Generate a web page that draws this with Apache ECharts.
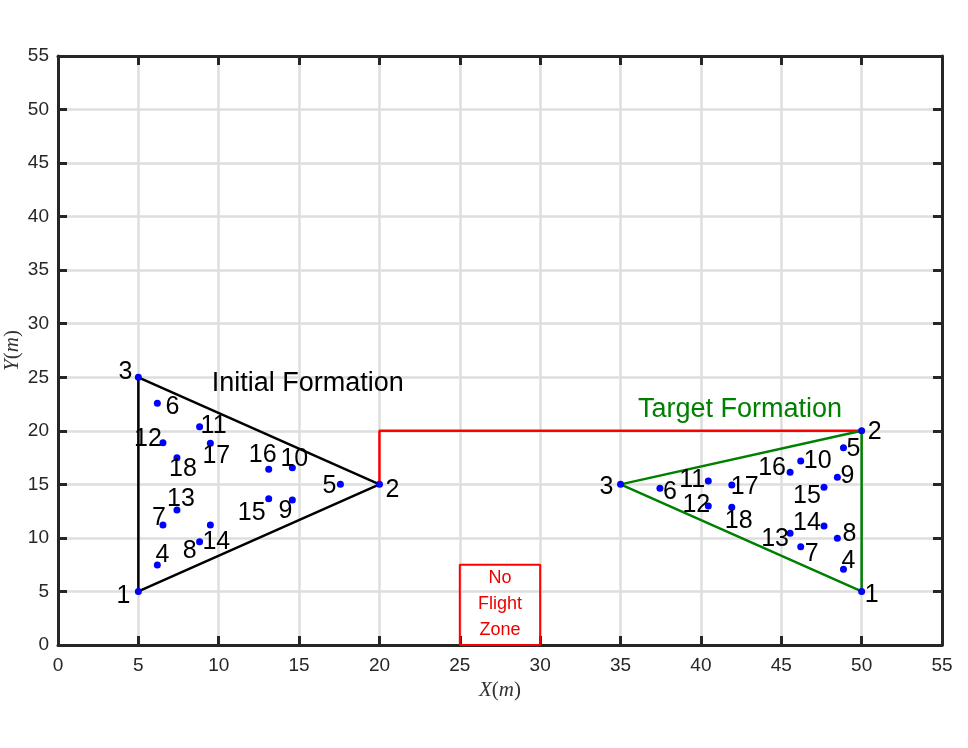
<!DOCTYPE html>
<html>
<head>
<meta charset="utf-8">
<script src="https://cdn.jsdelivr.net/npm/echarts@6/dist/echarts.min.js"></script>
<style>html,body{margin:0;padding:0;background:#fff}#c{width:968px;height:748px}</style>
</head>
<body>
<div id="c"></div>
<script>
// ---- data ----
const initialX = [5, 20, 5, 6.18, 17.57, 6.18, 6.53, 8.81, 14.58, 14.58, 8.81, 6.53, 7.40, 9.48, 13.11, 13.11, 9.48, 7.40];
const initialY = [5, 15, 25, 7.47, 15.0, 22.57, 11.2, 9.65, 13.54, 16.55, 20.38, 18.89, 12.6, 11.2, 13.66, 16.4, 18.83, 17.49];
const targetX = [50, 50, 35, 48.87, 48.87, 37.45, 46.21, 48.49, 48.49, 46.21, 40.46, 40.46, 45.55, 47.66, 47.66, 45.55, 41.92, 41.92];
const targetY = [5, 20, 15, 7.07, 18.42, 14.63, 9.18, 9.96, 15.66, 17.18, 15.31, 12.98, 10.43, 11.11, 14.72, 16.12, 14.94, 12.86];
const pathX = [20, 20, 50];
const pathY = [15, 20, 20];
const zoneX = [25, 25, 30, 30, 25];
const zoneY = [0, 7.5, 7.5, 0, 0];
const zoneLabelPos = [27.5, 3.83];
const zoneText = 'No\nFlight\nZone';
const initialTitle = 'Initial Formation';
const initialTitlePos = [9.56, 24.46];
const targetTitle = 'Target Formation';
const targetTitlePos = [36.08, 21.94];
const xTicks = [0, 55, 5];
const yTicks = [0, 55, 5];

// ---- label styling (pixel offsets of the number labels) ----
const initialLabelOffsets = [[-15,5],[13,6],[-13,-5],[5,-10],[-11,2],[15,4],[-4,-7],[-10,9],[-7,11],[2,-9],[14,-1],[-15,-4],[4,-11],[6,17],[-17,14],[-6,-14],[6,13],[6,11]];
const targetLabelOffsets = [[10,4],[13,1],[-14,3],[5,-8],[10,1],[10,4],[11,7],[12,-4],[10,-1],[17,0],[-16,-1],[-12,-1],[-15,6],[-17,-3],[-17,9],[-18,-4],[13,2],[7,14]];

const zip = (xs, ys) => xs.map((x, i) => [x, ys[i]]);
const tri = (xs, ys) => [[xs[0], ys[0]], [xs[1], ys[1]], [xs[2], ys[2]], [xs[0], ys[0]]];
const pts = (xs, ys, offs) => xs.map((x, i) => ({ value: [x, ys[i]], label: { offset: offs[i] } }));

const axisCol = '#262626';
const font = 'Liberation Sans, Arial, sans-serif';
const serif = 'Liberation Serif, Times New Roman, serif';

const baseAxis = {
  type: 'value', min: 0, max: 55, interval: 5,
  axisLine: { show: true, onZero: false, lineStyle: { color: axisCol, width: 3 } },
  axisTick: { show: true, inside: true, length: 9, lineStyle: { color: axisCol, width: 3 } },
};

const nameRich = {
  i: { fontFamily: serif, fontStyle: 'italic', fontSize: 21, color: '#333' },
  n: { fontFamily: serif, fontSize: 21, color: '#333' }
};

const numLabel = { show: true, position: 'inside', formatter: p => String(p.dataIndex + 1), color: '#000', opacity: 1, fontSize: 25, fontFamily: font };

const chart = echarts.init(document.getElementById('c'));
chart.setOption({
  animation: false,
  backgroundColor: '#fff',
  grid: { left: 58, right: 26, top: 56, bottom: 103, containLabel: false, outerBoundsMode: 'none' },
  xAxis: [
    Object.assign({}, baseAxis, {
      position: 'bottom', min: xTicks[0], max: xTicks[1], interval: xTicks[2],
      axisLabel: { color: axisCol, fontSize: 19, fontFamily: font, margin: 11 },
      splitLine: { show: true, lineStyle: { color: '#dedede', width: 2.5 } },
      name: '{i|X}{n|(}{i|m}{n|)}', nameLocation: 'middle', nameGap: 34,
      nameTextStyle: { rich: nameRich }
    }),
    Object.assign({}, baseAxis, {
      position: 'top', min: xTicks[0], max: xTicks[1], interval: xTicks[2],
      axisLabel: { show: false }, splitLine: { show: false }
    })
  ],
  yAxis: [
    Object.assign({}, baseAxis, {
      position: 'left', min: yTicks[0], max: yTicks[1], interval: yTicks[2],
      axisLabel: { color: axisCol, fontSize: 19, fontFamily: font, margin: 9 },
      splitLine: { show: true, lineStyle: { color: '#dedede', width: 2.5 } },
      name: '{i|Y}{n|(}{i|m}{n|)}', nameLocation: 'middle', nameGap: 46, nameRotate: 90,
      nameMoveOverlap: false,
      nameTextStyle: { rich: nameRich, verticalAlign: 'middle' }
    }),
    Object.assign({}, baseAxis, {
      position: 'right', min: yTicks[0], max: yTicks[1], interval: yTicks[2],
      axisLabel: { show: false }, splitLine: { show: false }
    })
  ],
  series: [
    { type: 'line', data: zip(zoneX, zoneY), symbol: 'none', lineStyle: { color: '#ff0000', width: 2 }, z: 2 },
    { type: 'line', data: zip(pathX, pathY), symbol: 'none', lineStyle: { color: '#ff0000', width: 2.5 }, z: 2 },
    { type: 'line', data: tri(initialX, initialY), symbol: 'none', lineStyle: { color: '#000', width: 2.5 }, z: 3 },
    { type: 'line', data: tri(targetX, targetY), symbol: 'none', lineStyle: { color: '#008000', width: 2.5 }, z: 3 },
    {
      type: 'scatter', data: pts(initialX, initialY, initialLabelOffsets), symbolSize: 7,
      itemStyle: { color: '#0000ff', opacity: 1 }, z: 5, label: numLabel
    },
    {
      type: 'scatter', data: pts(targetX, targetY, targetLabelOffsets), symbolSize: 7,
      itemStyle: { color: '#0000ff', opacity: 1 }, z: 5, label: numLabel
    },
    {
      type: 'scatter', data: [zoneLabelPos], symbolSize: 0, z: 6, itemStyle: { opacity: 1 },
      label: { show: true, position: 'inside', formatter: zoneText, color: '#ee0000', fontSize: 18, lineHeight: 26, align: 'center', fontFamily: font }
    },
    {
      type: 'scatter', data: [initialTitlePos], symbolSize: 0, z: 6, itemStyle: { opacity: 1 },
      label: { show: true, position: 'right', distance: 0, formatter: initialTitle, color: '#000', fontSize: 27, fontFamily: font }
    },
    {
      type: 'scatter', data: [targetTitlePos], symbolSize: 0, z: 6, itemStyle: { opacity: 1 },
      label: { show: true, position: 'right', distance: 0, formatter: targetTitle, color: '#008000', fontSize: 27, fontFamily: font }
    }
  ]
});
</script>
</body>
</html>
